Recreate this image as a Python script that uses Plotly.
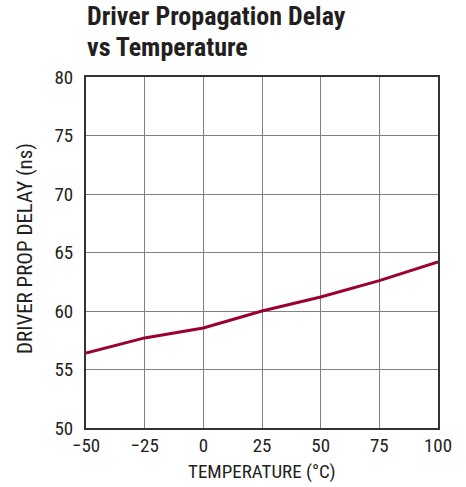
import plotly.graph_objects as go

temperature = [-50, -25, 0, 25, 50, 75, 100]
prop_delay = [56.4, 57.7, 58.55, 60.0, 61.2, 62.6, 64.2]
x_ticks = [-50, -25, 0, 25, 50, 75, 100]
x_tick_labels = ["\u221250", "\u221225", "0", "25", "50", "75", "100"]
y_ticks = [50, 55, 60, 65, 70, 75, 80]

FONT = "Liberation Sans Narrow, Roboto Condensed, Liberation Sans, Arial, sans-serif"
W, H = 466, 487
L, R, T, B = 86, 28, 77, 59
PW, PH = W - L - R, H - T - B

def px_x(x):
    return (x - L) / PW

def px_y(y):
    return (H - B - y) / PH

fig = go.Figure()
fig.add_trace(go.Scatter(
    x=temperature, y=prop_delay, mode="lines",
    line=dict(color="#990033", width=3),
    showlegend=False, hoverinfo="skip",
))

annotations = [
    dict(text="<b>Driver Propagation Delay</b>", x=px_x(85), y=px_y(33),
         xref="paper", yref="paper", xanchor="left", yanchor="bottom",
         showarrow=False, font=dict(family=FONT, size=26, color="#231f20")),
    dict(text="<b>vs Temperature</b>", x=px_x(85), y=px_y(64),
         xref="paper", yref="paper", xanchor="left", yanchor="bottom",
         showarrow=False, font=dict(family=FONT, size=26, color="#231f20")),
    dict(text="DRIVER PROP DELAY (ns)", x=px_x(25), y=px_y(249),
         xref="paper", yref="paper", xanchor="center", yanchor="middle",
         textangle=-90, showarrow=False, font=dict(family=FONT, size=21, color="#231f20")),
    dict(text="TEMPERATURE (\u00b0C)", x=px_x(262), y=px_y(471),
         xref="paper", yref="paper", xanchor="center", yanchor="middle",
         showarrow=False, font=dict(family=FONT, size=19, color="#231f20")),
]

fig.update_layout(
    width=W, height=H,
    margin=dict(l=L, r=R, t=T, b=B, autoexpand=False),
    paper_bgcolor="white", plot_bgcolor="white",
    font=dict(family=FONT, color="#231f20", size=19),
    annotations=annotations,
    xaxis=dict(
        range=[-50, 100], tickvals=x_ticks, ticktext=x_tick_labels,
        showgrid=True, gridcolor="#808080", gridwidth=1,
        showline=True, linecolor="#333333", linewidth=2, mirror=True,
        ticks="", zeroline=False, automargin=False,
        tickfont=dict(size=19), ticklabelstandoff=-1,
    ),
    yaxis=dict(
        range=[50, 80], tickvals=y_ticks,
        showgrid=True, gridcolor="#808080", gridwidth=1,
        showline=True, linecolor="#333333", linewidth=2, mirror=True,
        ticks="", zeroline=False, automargin=False,
        tickfont=dict(size=19), ticklabelstandoff=7,
    ),
)

fig.write_html("out.html", config={"displayModeBar": False},
               post_script="document.body.style.margin='0';")
